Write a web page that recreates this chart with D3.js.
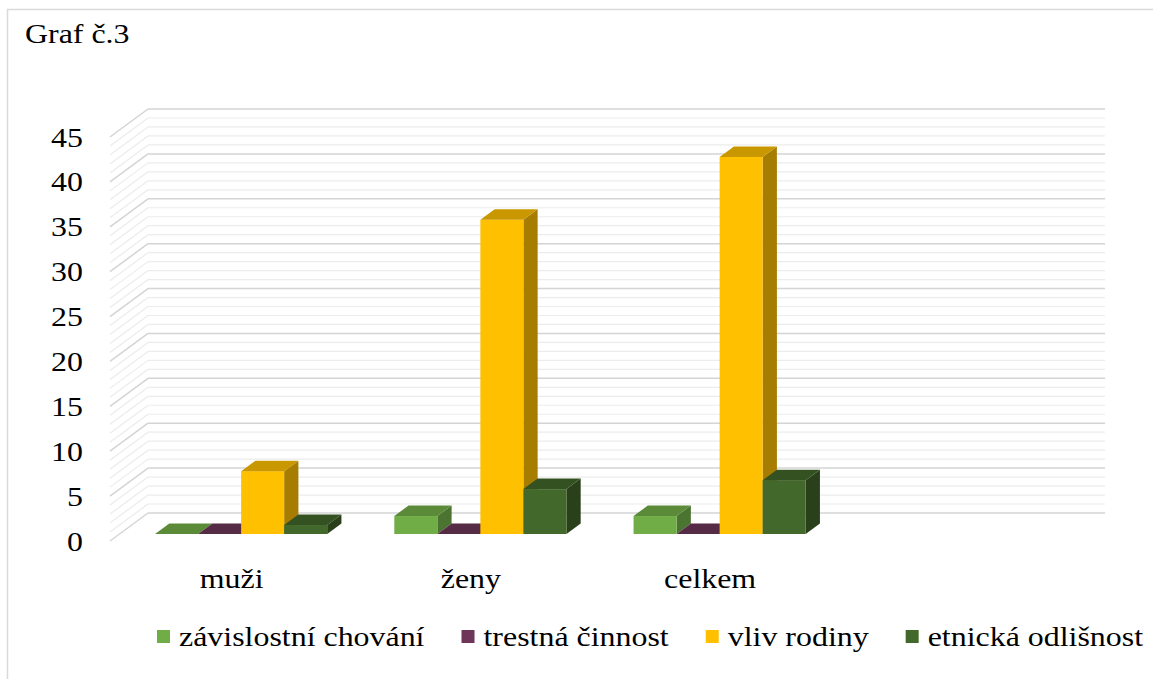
<!DOCTYPE html>
<html>
<head>
<meta charset="utf-8">
<script src="https://cdn.jsdelivr.net/npm/d3@7"></script>
<style>
  html, body { margin: 0; padding: 0; background: #fff; }
  svg { display: block; }
</style>
</head>
<body>
<svg id="chart" width="1153" height="679"></svg>
<script>
// Data
const categories = ["muži", "ženy", "celkem"];
const seriesNames = ["závislostní chování", "trestná činnost", "vliv rodiny", "etnická odlišnost"];
const zavislostniChovani = [0, 2, 2];
const trestnaCinnost = [0, 0, 0];
const vlivRodiny = [7, 35, 42];
const etnickaOdlisnost = [1, 5, 6];
const yTickValues = [0, 5, 10, 15, 20, 25, 30, 35, 40, 45];
const title = "Graf č.3";

const seriesValues = [zavislostniChovani, trestnaCinnost, vlivRodiny, etnickaOdlisnost];
// front / top / side shades for each series
const seriesColors = [
  { front: "#70AD47", top: "#5B8B39", side: "#4A7430" },
  { front: "#6E3759", top: "#562B45", side: "#47233A" },
  { front: "#FFC000", top: "#C99800", side: "#A67D00" },
  { front: "#43682B", top: "#345221", side: "#29401A" }
];

const SERIF = '"Liberation Serif"';
const FONT = 28, SX = 1.14;   // serif text, slightly widened

const svg = d3.select("#chart");

// chart frame
svg.append("rect")
  .attr("x", 7.5).attr("y", 9.5).attr("width", 1170).attr("height", 700)
  .attr("fill", "none").attr("stroke", "#d9d9d9").attr("stroke-width", 1.5);

// 3D geometry: front plane + depth offset of back wall
const DX = 38, DY = -28;
const x0 = 110, x1 = 1067;
const y = d3.scaleLinear().domain([0, 45]).range([541, 137]);

// four category slots (last one left empty)
const slots = categories.concat([""]);
const xCat = d3.scaleBand().domain(slots).range([x0 + 2, x1 + 2]).paddingInner(0).paddingOuter(0);
const xSer = d3.scaleBand().domain(seriesNames).range([0, xCat.bandwidth()])
  .paddingInner(0).paddingOuter(0.78);

// gridlines: back wall + left side wall
const grid = svg.append("g");
const gridVals = d3.range(0, 46, 1);
gridVals.forEach(v => {
  const major = v % 5 === 0;
  const col = major ? "#d4d4d4" : "#ececec";
  const w = major ? 1.5 : 1.2;
  grid.append("line")
    .attr("x1", x0 + DX).attr("x2", x1 + DX)
    .attr("y1", y(v) + DY).attr("y2", y(v) + DY)
    .attr("stroke", col).attr("stroke-width", w);
  grid.append("line")
    .attr("x1", x0).attr("y1", y(v))
    .attr("x2", x0 + DX).attr("y2", y(v) + DY)
    .attr("stroke", col).attr("stroke-width", w);
});

// helper for widened serif text
function label(g, x, yy, str, anchor) {
  return g.append("g").attr("transform", `translate(${x},${yy}) scale(${SX},1)`)
    .append("text")
    .style("font-family", SERIF)
    .attr("font-size", FONT)
    .attr("fill", "#000")
    .attr("text-anchor", anchor || "start")
    .text(str);
}

// y axis labels
const yAxisG = svg.append("g");
yTickValues.forEach(v => label(yAxisG, 83, y(v) + 9.5, String(v), "end"));

// bars (boxes placed between 25% and 62.5% of floor depth)
const f1 = 0.25, f2 = 0.625;
const bars = svg.append("g");
categories.forEach((cat, ci) => {
  seriesNames.forEach((s, si) => {
    const v = seriesValues[si][ci];
    const c = seriesColors[si];
    const bx = xCat(cat) + xSer(s) + f1 * DX;
    const bw = xSer.bandwidth();
    const yb = y(0) + f1 * DY;
    const yt = y(v) + f1 * DY;
    const ddx = (f2 - f1) * DX, ddy = (f2 - f1) * DY;
    const g = bars.append("g");
    // side face
    g.append("path")
      .attr("d", `M${bx + bw},${yb} L${bx + bw + ddx},${yb + ddy} L${bx + bw + ddx},${yt + ddy} L${bx + bw},${yt} Z`)
      .attr("fill", c.side);
    // front face
    g.append("rect").attr("x", bx).attr("y", yt).attr("width", bw).attr("height", yb - yt)
      .attr("fill", c.front);
    // top face
    g.append("path")
      .attr("d", `M${bx},${yt} L${bx + bw},${yt} L${bx + bw + ddx},${yt + ddy} L${bx + ddx},${yt + ddy} Z`)
      .attr("fill", c.top);
  });
});

// category labels
const xAxisG = svg.append("g");
categories.forEach(cat => label(xAxisG, xCat(cat) + xCat.bandwidth() / 2, 588, cat, "middle"));

// title
label(svg, 25, 43, title, "start");

// legend
const legend = svg.append("g");
let lx = 157;
seriesNames.forEach((s, si) => {
  legend.append("rect").attr("x", lx).attr("y", 630).attr("width", 13).attr("height", 13)
    .attr("fill", seriesColors[si].front);
  const t = label(legend, lx + 22, 646, s, "start");
  const w = t.node().getComputedTextLength() * SX;
  lx += 22 + w + 37;
});
</script>
</body>
</html>
